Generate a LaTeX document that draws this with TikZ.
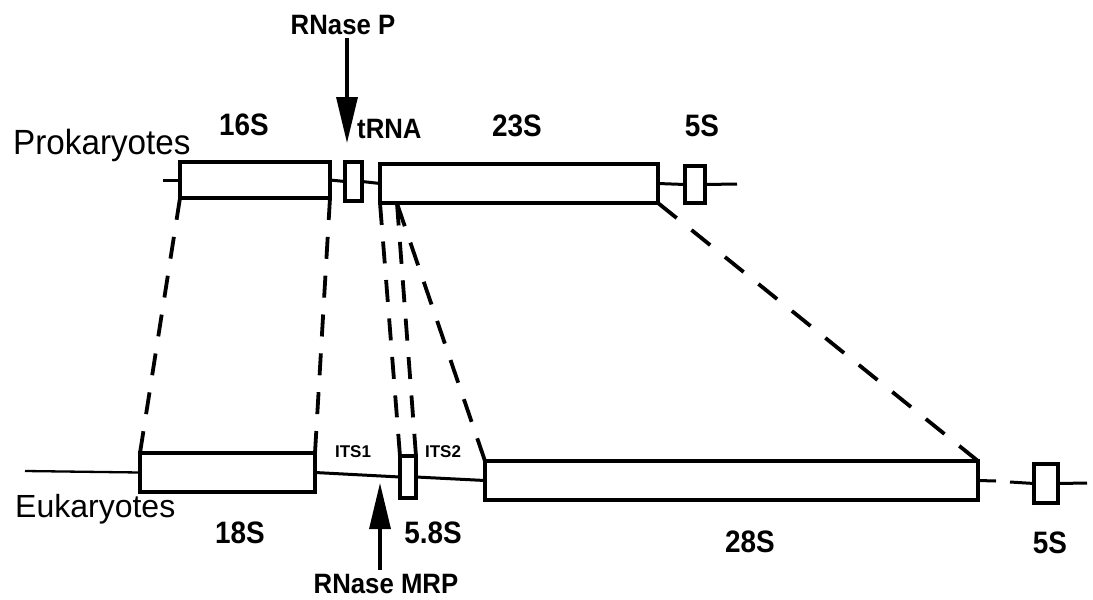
\documentclass[tikz,border=0pt]{standalone}
\usepackage{fontspec}
\usepackage{graphicx}
\setmainfont{Liberation Sans}
\usetikzlibrary{arrows.meta}
\newcommand\narrowtxt[2]{\scalebox{#1}[1]{#2}}
\begin{document}
\begin{tikzpicture}[x=1pt,y=-1pt,
  gene/.style={draw, line width=3.4pt, inner sep=0pt, outer sep=0pt, fill=white},
  dna/.style={line width=3pt},
  thindna/.style={line width=2.3pt},
  map/.style={line width=3.8pt},
  cut/.style={line width=3.4pt, -{Triangle[length=46pt,width=21pt]}},
  lab/.style={font=\fontsize{31}{33}\selectfont\bfseries, inner sep=0pt, anchor=base},
  enz/.style={font=\fontsize{28}{30}\selectfont\bfseries, inner sep=0pt, anchor=base},
  its/.style={font=\fontsize{17}{19}\selectfont\bfseries, inner sep=0pt, anchor=base},
  org/.style={inner sep=0pt, anchor=base west},
]
\useasboundingbox (0,0) rectangle (1093,600);

% ---------------- Prokaryotes ----------------
\node[gene, minimum width=150pt, minimum height=36pt] (p16)   at (255,180) {};
\node[gene, minimum width=17pt,  minimum height=39pt] (ptrna) at (353.5,181.5) {};
\node[gene, minimum width=278pt, minimum height=39pt] (p23)   at (519,183.5) {};
\node[gene, minimum width=20pt,  minimum height=37pt] (p5)    at (695,184.5) {};
\coordinate (pL) at (163,180);
\coordinate (pR) at (737,184);
\coordinate (split) at (397,203.5);

\draw[dna] (pL) -- (p16.west);
\draw[dna] (p16.east) -- (ptrna.west);
\draw[dna] (ptrna.east) -- (p23.west);
\draw[dna] (p23.east) -- (p5.west);
\draw[dna] (p5.east) -- (pR);

\node[org, font=\fontsize{35}{37}\selectfont] (prok) at (13,154) {\narrowtxt{0.95}{Prokaryotes}};
\node[lab] (l16)  at (244,135) {\narrowtxt{0.9}{16S}};
\node[enz, anchor=base west] (ltrna) at (357,138) {\narrowtxt{0.92}{tRNA}};
\node[lab] (l23)  at (517,136) {\narrowtxt{0.9}{23S}};
\node[lab] (lp5)  at (702,136) {\narrowtxt{0.9}{5S}};
\node[enz] (rnp)  at (343,34) {\narrowtxt{0.92}{RNase P}};
\coordinate (tipP) at (347,143);
\draw[cut] (rnp.south -| tipP) ++(0,4) -- (tipP);

% ---------------- Eukaryotes ----------------
\node[gene, minimum width=175pt, minimum height=39pt] (e18) at (227.5,472.5) {};
\node[gene, minimum width=16pt,  minimum height=42pt] (e58) at (408,477) {};
\node[gene, minimum width=493pt, minimum height=39pt] (e28) at (731.5,480.5) {};
\node[gene, minimum width=24pt,  minimum height=39pt] (e5)  at (1046,483.5) {};
\coordinate (eL)  at (25,471);
\coordinate (eG1) at (996,481);
\coordinate (eG2) at (1010,482);
\coordinate (eR)  at (1087,483);

\draw[thindna] (eL) -- (e18.west);
\draw[dna] (e18.east) -- (e58.west);
\draw[dna] (e58.east) -- (e28.west);
\draw[dna] (e28.east) -- (eG1);
\draw[dna] (eG2) -- (e5.west);
\draw[dna] (e5.east) -- (eR);

\node[org, font=\fontsize{32}{34}\selectfont] (euk) at (15,517) {Eukaryotes};
\node[its] (its1) at (353,457) {ITS1};
\node[its] (its2) at (443,457) {ITS2};
\node[lab] (l18)  at (240,543) {\narrowtxt{0.9}{18S}};
\node[lab] (l58)  at (433,543) {\narrowtxt{0.9}{5.8S}};
\node[lab] (l28)  at (750,552) {\narrowtxt{0.9}{28S}};
\node[lab] (le5)  at (1050,553) {\narrowtxt{0.9}{5S}};
\node[enz] (rnm)  at (386,593) {\narrowtxt{0.92}{RNase MRP}};
\coordinate (tipM) at (380,483);
\draw[cut] (rnm.north -| tipM) ++(0,-4) -- (tipM);

% ---------------- correspondence lines ----------------
\draw[map, dash pattern=on 22pt off 17.35pt] (p16.south west) -- (e18.north west);
\draw[map, dash pattern=on 22pt off 16.9pt]  (p16.south east) -- (e18.north east);
\draw[map, dash pattern=on 22pt off 16.6pt]  (p23.south west) -- (e58.north west);
\draw[map, dash pattern=on 22pt off 16.5pt]  (split) -- (e58.north east);
\draw[map, dash pattern=on 24pt off 17.35pt] (split) -- (e28.north west);
\draw[map, dash pattern=on 24pt off 19pt]    (p23.south east) -- (e28.north east);
\end{tikzpicture}
\end{document}
